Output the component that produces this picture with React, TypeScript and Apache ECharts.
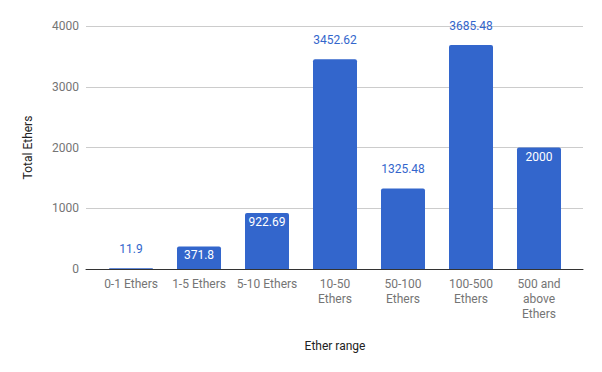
import React, { useEffect, useRef } from "react";
import * as echarts from "echarts";

const categories = [
  "0-1 Ethers",
  "1-5 Ethers",
  "5-10 Ethers",
  "10-50\nEthers",
  "50-100\nEthers",
  "100-500\nEthers",
  "500 and\nabove\nEthers",
];
const totalEthers = [11.9, 371.8, 922.69, 3452.62, 1325.48, 3685.48, 2000];
// label placement as in the reference: inside the bar top or above it
const labelInside = [false, true, true, false, false, false, true];
const yTicks = [0, 1000, 2000, 3000, 4000];

const BLUE = "#3366cc";
const FONT = "Roboto, Arial, sans-serif";

export default function App() {
  const ref = useRef<HTMLDivElement>(null);
  useEffect(() => {
    if (!ref.current) return;
    const chart = echarts.init(ref.current, null, { renderer: "svg" });
    const yMax = yTicks[yTicks.length - 1];
    const yInterval = yTicks[1] - yTicks[0];
    chart.setOption({
      animation: false,
      textStyle: { fontFamily: FONT },
      grid: [
        { left: 86, right: 19, top: 26, bottom: 103 },
        { left: 97, right: 29, top: 26, bottom: 103 },
      ],
      xAxis: [
        {
          type: "category",
          gridIndex: 0,
          data: categories,
          axisLine: { show: true, lineStyle: { color: "#333333", width: 1 } },
          axisTick: { show: false },
          axisLabel: { show: false },
          splitLine: { show: false },
          z: 5,
        },
        {
          type: "category",
          gridIndex: 1,
          data: categories,
          axisLine: { show: false },
          axisTick: { show: false },
          axisLabel: {
            color: "#757575",
            fontSize: 12,
            fontFamily: FONT,
            lineHeight: 15,
            margin: 7,
            interval: 0,
          },
          name: "Ether range",
          nameLocation: "middle",
          nameGap: 71,
          nameTextStyle: { color: "#222222", fontSize: 12, fontFamily: FONT },
        },
      ],
      yAxis: [
        {
          type: "value",
          gridIndex: 0,
          min: 0,
          max: yMax,
          interval: yInterval,
          axisLine: { show: false },
          axisTick: { show: false },
          axisLabel: {
            color: "#757575",
            fontSize: 12,
            fontFamily: FONT,
            margin: 7,
            formatter: (v: number) => String(v),
          },
          splitLine: { lineStyle: { color: "#cccccc", width: 1 } },
          name: "Total Ethers",
          nameLocation: "middle",
          nameGap: 52,
          nameTextStyle: { color: "#222222", fontSize: 12, fontFamily: FONT },
        },
        {
          type: "value",
          gridIndex: 1,
          min: 0,
          max: yMax,
          interval: yInterval,
          show: false,
        },
      ],
      series: [
        {
          type: "bar",
          xAxisIndex: 1,
          yAxisIndex: 1,
          barWidth: 44,
          itemStyle: { color: BLUE, borderRadius: [2, 2, 0, 0] },
          data: totalEthers.map((v, i) => ({
            value: v,
            label: labelInside[i]
              ? { position: "insideTop", distance: 3, color: "#ffffff" }
              : { position: "top", distance: 13, color: BLUE },
          })),
          label: {
            show: true,
            fontSize: 12,
            fontFamily: FONT,
            formatter: (p: any) => String(p.value),
          },
        },
      ],
    });
    return () => chart.dispose();
  }, []);
  return <div ref={ref} style={{ width: 602, height: 372, position: "absolute", left: 0, top: 0 }} />;
}
